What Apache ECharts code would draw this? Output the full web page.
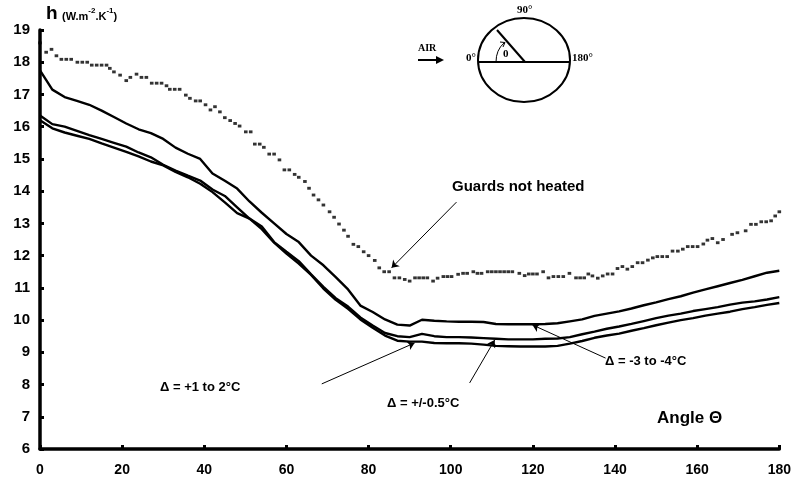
<!DOCTYPE html>
<html>
<head>
<meta charset="utf-8">
<script src="https://cdn.jsdelivr.net/npm/echarts@6/dist/echarts.min.js"></script>
<style>
html, body { margin: 0; background: #fff; }
#chart { width: 794px; height: 483px; }
</style>
</head>
<body>
<div id="chart"></div>
<script>
// angles of the three solid curves (deg)
var angles = [0, 3, 6, 9, 12, 15, 18, 21, 24, 27, 30, 33, 36, 39, 42, 45, 48, 51, 54, 57,
  60, 63, 66, 69, 72, 75, 78, 81, 84, 87, 90, 93, 96, 99, 102, 105, 108, 111, 114, 117,
  120, 123, 126, 129, 132, 135, 138, 141, 144, 147, 150, 153, 156, 159, 162, 165, 168, 171, 174, 177, 180]

// Δ = -3 to -4 °C
var hMinus3to4 = [17.75, 17.15, 16.92, 16.8, 16.68, 16.5, 16.3, 16.1, 15.92, 15.8, 15.62, 15.35, 15.16, 15.0, 14.55, 14.32, 14.08, 13.68, 13.33, 13.0,
  12.67, 12.42, 12.0, 11.7, 11.33, 10.95, 10.45, 10.25, 10.02, 9.86, 9.83, 10.01, 9.98, 9.96, 9.95, 9.95, 9.94, 9.88, 9.87, 9.87,
  9.87, 9.88, 9.9, 9.96, 10.02, 10.13, 10.2, 10.27, 10.36, 10.46, 10.55, 10.65, 10.74, 10.85, 10.95, 11.05, 11.15, 11.25, 11.36, 11.47, 11.53]

// Δ = +/-0.5 °C
var hPlusMinus05 = [16.35, 16.08, 16.0, 15.87, 15.74, 15.62, 15.5, 15.38, 15.2, 15.05, 14.82, 14.64, 14.48, 14.33, 14.05, 13.85, 13.5, 13.15, 12.9, 12.42,
  12.12, 11.83, 11.42, 11.03, 10.68, 10.42, 10.08, 9.83, 9.6, 9.5, 9.47, 9.57, 9.5, 9.47, 9.47, 9.46, 9.44, 9.42, 9.4, 9.4,
  9.4, 9.42, 9.43, 9.47, 9.56, 9.64, 9.73, 9.8, 9.88, 9.97, 10.06, 10.14, 10.2, 10.28, 10.34, 10.4, 10.48, 10.54, 10.58, 10.64, 10.71]

// Δ = +1 to 2 °C
var hPlus1to2 = [16.2, 15.95, 15.82, 15.72, 15.62, 15.48, 15.35, 15.22, 15.08, 14.92, 14.8, 14.6, 14.43, 14.23, 13.97, 13.65, 13.32, 13.15, 12.82, 12.4,
  12.06, 11.75, 11.4, 10.98, 10.63, 10.35, 10.02, 9.76, 9.52, 9.36, 9.33, 9.33, 9.29, 9.28, 9.28, 9.27, 9.24, 9.2, 9.19, 9.18,
  9.18, 9.18, 9.2, 9.27, 9.35, 9.45, 9.52, 9.58, 9.67, 9.75, 9.84, 9.92, 10.0, 10.06, 10.14, 10.2, 10.26, 10.34, 10.4, 10.47, 10.53]

// guards not heated (single readings, drawn as short dashes)
var guardAngles = [0, 1.5, 2.8, 4, 5.2, 6.4, 7.6, 9.1, 10.3, 11.5, 12.6, 13.8, 15.0, 16.2, 17, 18, 19.5, 21, 22, 23.5,
  24.7, 25.9, 27.2, 28.4, 29.6, 30.8, 31.6, 32.8, 34.0, 35.5, 36.5, 37.9, 39.0, 40.3, 41.5, 42.6, 43.8, 45, 46.3, 47.5,
  48.6, 50.1, 51.3, 52.3, 53.5, 54.5, 55.8, 57.0, 58.3, 59.5, 60.7, 62, 63, 64.5, 65.5, 66.6, 67.8, 69, 70.5, 71.6,
  72.8, 74, 75, 76.3, 77.5, 78.8, 80, 81.5, 82.6, 83.8, 85.0, 86.3, 87.5, 88.8, 90, 91.3, 92.3, 93.3, 94.3, 95.7,
  96.8, 98.2, 99.2, 100.2, 101.8, 103, 104, 105.5, 106.5, 107.5, 109, 110, 111, 112, 113, 114, 115, 116.7, 118, 119,
  120, 121, 122.5, 123.8, 125, 126.2, 127.4, 128.9, 130.5, 131.5, 132.5, 133.5, 134.5, 135.8, 137, 138.2, 139.4, 140.6, 141.8, 143,
  144.2, 145.5, 146.7, 148, 149.2, 150.3, 151.5, 152.7, 154, 155.3, 156.5, 157.7, 158.9, 160.1, 161.5, 162.5, 163.7, 165, 166.3, 168.5,
  169.8, 171.8, 173.1, 174.3, 175.6, 176.8, 178, 179, 180]
var guardValues = [18.6, 18.31, 18.4, 18.2, 18.09, 18.09, 18.09, 18.0, 18.0, 18.0, 17.91, 17.91, 17.91, 17.91, 17.81, 17.7, 17.6, 17.43, 17.53, 17.63,
  17.53, 17.53, 17.35, 17.35, 17.35, 17.27, 17.16, 17.16, 17.16, 16.98, 16.88, 16.8, 16.8, 16.68, 16.52, 16.62, 16.46, 16.28, 16.19, 16.1,
  16.02, 15.84, 15.84, 15.46, 15.46, 15.36, 15.15, 15.15, 14.97, 14.66, 14.66, 14.52, 14.43, 14.3, 14.09, 13.88, 13.73, 13.57, 13.36, 13.19,
  12.98, 12.79, 12.6, 12.35, 12.28, 12.12, 12.0, 11.85, 11.62, 11.5, 11.5, 11.31, 11.31, 11.26, 11.21, 11.31, 11.31, 11.31, 11.31, 11.21,
  11.3, 11.35, 11.35, 11.35, 11.42, 11.45, 11.45, 11.5, 11.45, 11.45, 11.5, 11.5, 11.5, 11.5, 11.5, 11.5, 11.5, 11.45, 11.38, 11.43,
  11.43, 11.43, 11.5, 11.31, 11.35, 11.35, 11.35, 11.45, 11.31, 11.31, 11.31, 11.43, 11.37, 11.3, 11.37, 11.43, 11.43, 11.6, 11.66, 11.58,
  11.66, 11.78, 11.78, 11.86, 11.93, 11.97, 11.97, 11.97, 12.14, 12.14, 12.2, 12.28, 12.28, 12.28, 12.36, 12.48, 12.53, 12.4, 12.5, 12.66,
  12.71, 12.77, 12.97, 12.97, 13.05, 13.05, 13.08, 13.23, 13.36]

// annotation arrows, [from, to] in data coordinates
var arrows = [
  [[101.4, 13.66], [85.6, 11.62]],
  [[137.7, 8.82], [119.9, 9.85]],
  [[104.6, 8.05], [110.7, 9.38]],
  [[68.6, 8.02], [91.2, 9.29]]
]

function pairs(xs, ys) {
  return xs.map(function (x, i) { return [x, ys[i]] })
}

var font = '"Liberation Sans", Arial, sans-serif'
var serif = '"Liberation Serif", "Times New Roman", serif'

var chart = echarts.init(document.getElementById('chart'))

var solidLine = { color: '#000', width: 2.4 }

var option = {
  animation: false,
  backgroundColor: '#fff',
  grid: { left: 40, right: 14, top: 30, bottom: 34 },
  xAxis: {
    type: 'value',
    min: 0, max: 180, interval: 20,
    axisLine: { show: true, onZero: false, lineStyle: { color: '#000', width: 3.5 } },
    axisTick: { show: true, inside: true, length: 4, lineStyle: { color: '#000', width: 3 } },
    axisLabel: { color: '#000', fontFamily: font, fontWeight: 'bold', fontSize: 14, margin: 14 },
    splitLine: { show: false }
  },
  yAxis: {
    type: 'value',
    min: 6, max: 19, interval: 1,
    axisLine: { show: true, lineStyle: { color: '#000', width: 3.5 } },
    axisTick: { show: true, inside: true, length: 4, lineStyle: { color: '#000', width: 3 } },
    axisLabel: { color: '#000', fontFamily: font, fontWeight: 'bold', fontSize: 15, margin: 10 },
    splitLine: { show: false }
  },
  series: [
    {
      name: 'Guards not heated',
      type: 'scatter',
      symbol: 'rect',
      symbolSize: [3.6, 2.9],
      itemStyle: { color: '#000' },
      data: pairs(guardAngles, guardValues)
    },
    {
      name: 'Δ = -3 to -4°C',
      type: 'line',
      symbol: 'none',
      lineStyle: solidLine,
      data: pairs(angles, hMinus3to4),
      markLine: {
        silent: true,
        symbol: ['none', 'arrow'],
        symbolSize: 7,
        label: { show: false },
        lineStyle: { color: '#000', width: 1, type: 'solid' },
        data: arrows.map(function (a) {
          return [{ coord: a[0] }, { coord: a[1] }]
        })
      }
    },
    {
      name: 'Δ = +/-0.5°C',
      type: 'line',
      symbol: 'none',
      lineStyle: solidLine,
      data: pairs(angles, hPlusMinus05)
    },
    {
      name: 'Δ = +1 to 2°C',
      type: 'line',
      symbol: 'none',
      lineStyle: solidLine,
      data: pairs(angles, hPlus1to2)
    }
  ],
  graphic: [
    // axis title
    { type: 'text', left: 46, top: 4, style: { text: 'h', font: 'bold 19px ' + font, fill: '#000' } },
    {
      type: 'text', left: 62, top: 7,
      style: {
        text: '{u|(W.m}{s|-2}{u|.K}{s|-1}{u|)}',
        fill: '#000',
        rich: {
          u: { fontFamily: font, fontWeight: 'bold', fontSize: 11, verticalAlign: 'bottom', lineHeight: 15 },
          s: { fontFamily: font, fontWeight: 'bold', fontSize: 8, verticalAlign: 'top', lineHeight: 15 }
        }
      }
    },
    { type: 'text', left: 657, top: 410, style: { text: 'Angle Θ', font: 'bold 17px ' + font, fill: '#000' } },
    // annotations
    { type: 'text', left: 452, top: 179, style: { text: 'Guards not heated', font: 'bold 15px ' + font, fill: '#000' } },
    { type: 'text', left: 605, top: 355, style: { text: 'Δ = -3 to -4°C', font: 'bold 13px ' + font, fill: '#000' } },
    { type: 'text', left: 387, top: 397, style: { text: 'Δ = +/-0.5°C', font: 'bold 13px ' + font, fill: '#000' } },
    { type: 'text', left: 160, top: 381, style: { text: 'Δ = +1 to 2°C', font: 'bold 13px ' + font, fill: '#000' } },
    // inset: cylinder cross-section
    { type: 'ellipse', shape: { cx: 524, cy: 60, rx: 46, ry: 42 }, style: { fill: 'none', stroke: '#000', lineWidth: 2 } },
    { type: 'line', shape: { x1: 478, y1: 62, x2: 570, y2: 62 }, style: { stroke: '#000', lineWidth: 2 } },
    { type: 'line', shape: { x1: 525, y1: 62, x2: 497, y2: 30 }, style: { stroke: '#000', lineWidth: 2 } },
    { type: 'bezierCurve', shape: { x1: 496, y1: 62, cpx1: 496, cpy1: 50, x2: 504, y2: 43 }, style: { fill: 'none', stroke: '#000', lineWidth: 1 } },
    { type: 'polyline', shape: { points: [[500, 42], [505, 42.5], [503, 47]] }, style: { fill: 'none', stroke: '#000', lineWidth: 1 } },
    { type: 'text', left: 503, top: 49, style: { text: '0', font: 'bold 11px ' + serif, fill: '#000' } },
    { type: 'text', left: 517, top: 5, style: { text: '90°', font: 'bold 11px ' + serif, fill: '#000' } },
    { type: 'text', left: 466, top: 53, style: { text: '0°', font: 'bold 11px ' + serif, fill: '#000' } },
    { type: 'text', left: 572, top: 53, style: { text: '180°', font: 'bold 11px ' + serif, fill: '#000' } },
    { type: 'text', left: 418, top: 43, style: { text: 'AIR', font: 'bold 10px ' + serif, fill: '#000' } },
    { type: 'line', shape: { x1: 418, y1: 60, x2: 438, y2: 60 }, style: { stroke: '#000', lineWidth: 2 } },
    { type: 'polygon', shape: { points: [[436, 56], [444, 60], [436, 64]] }, style: { fill: '#000' } }
  ]
}

chart.setOption(option)
</script>
</body>
</html>
